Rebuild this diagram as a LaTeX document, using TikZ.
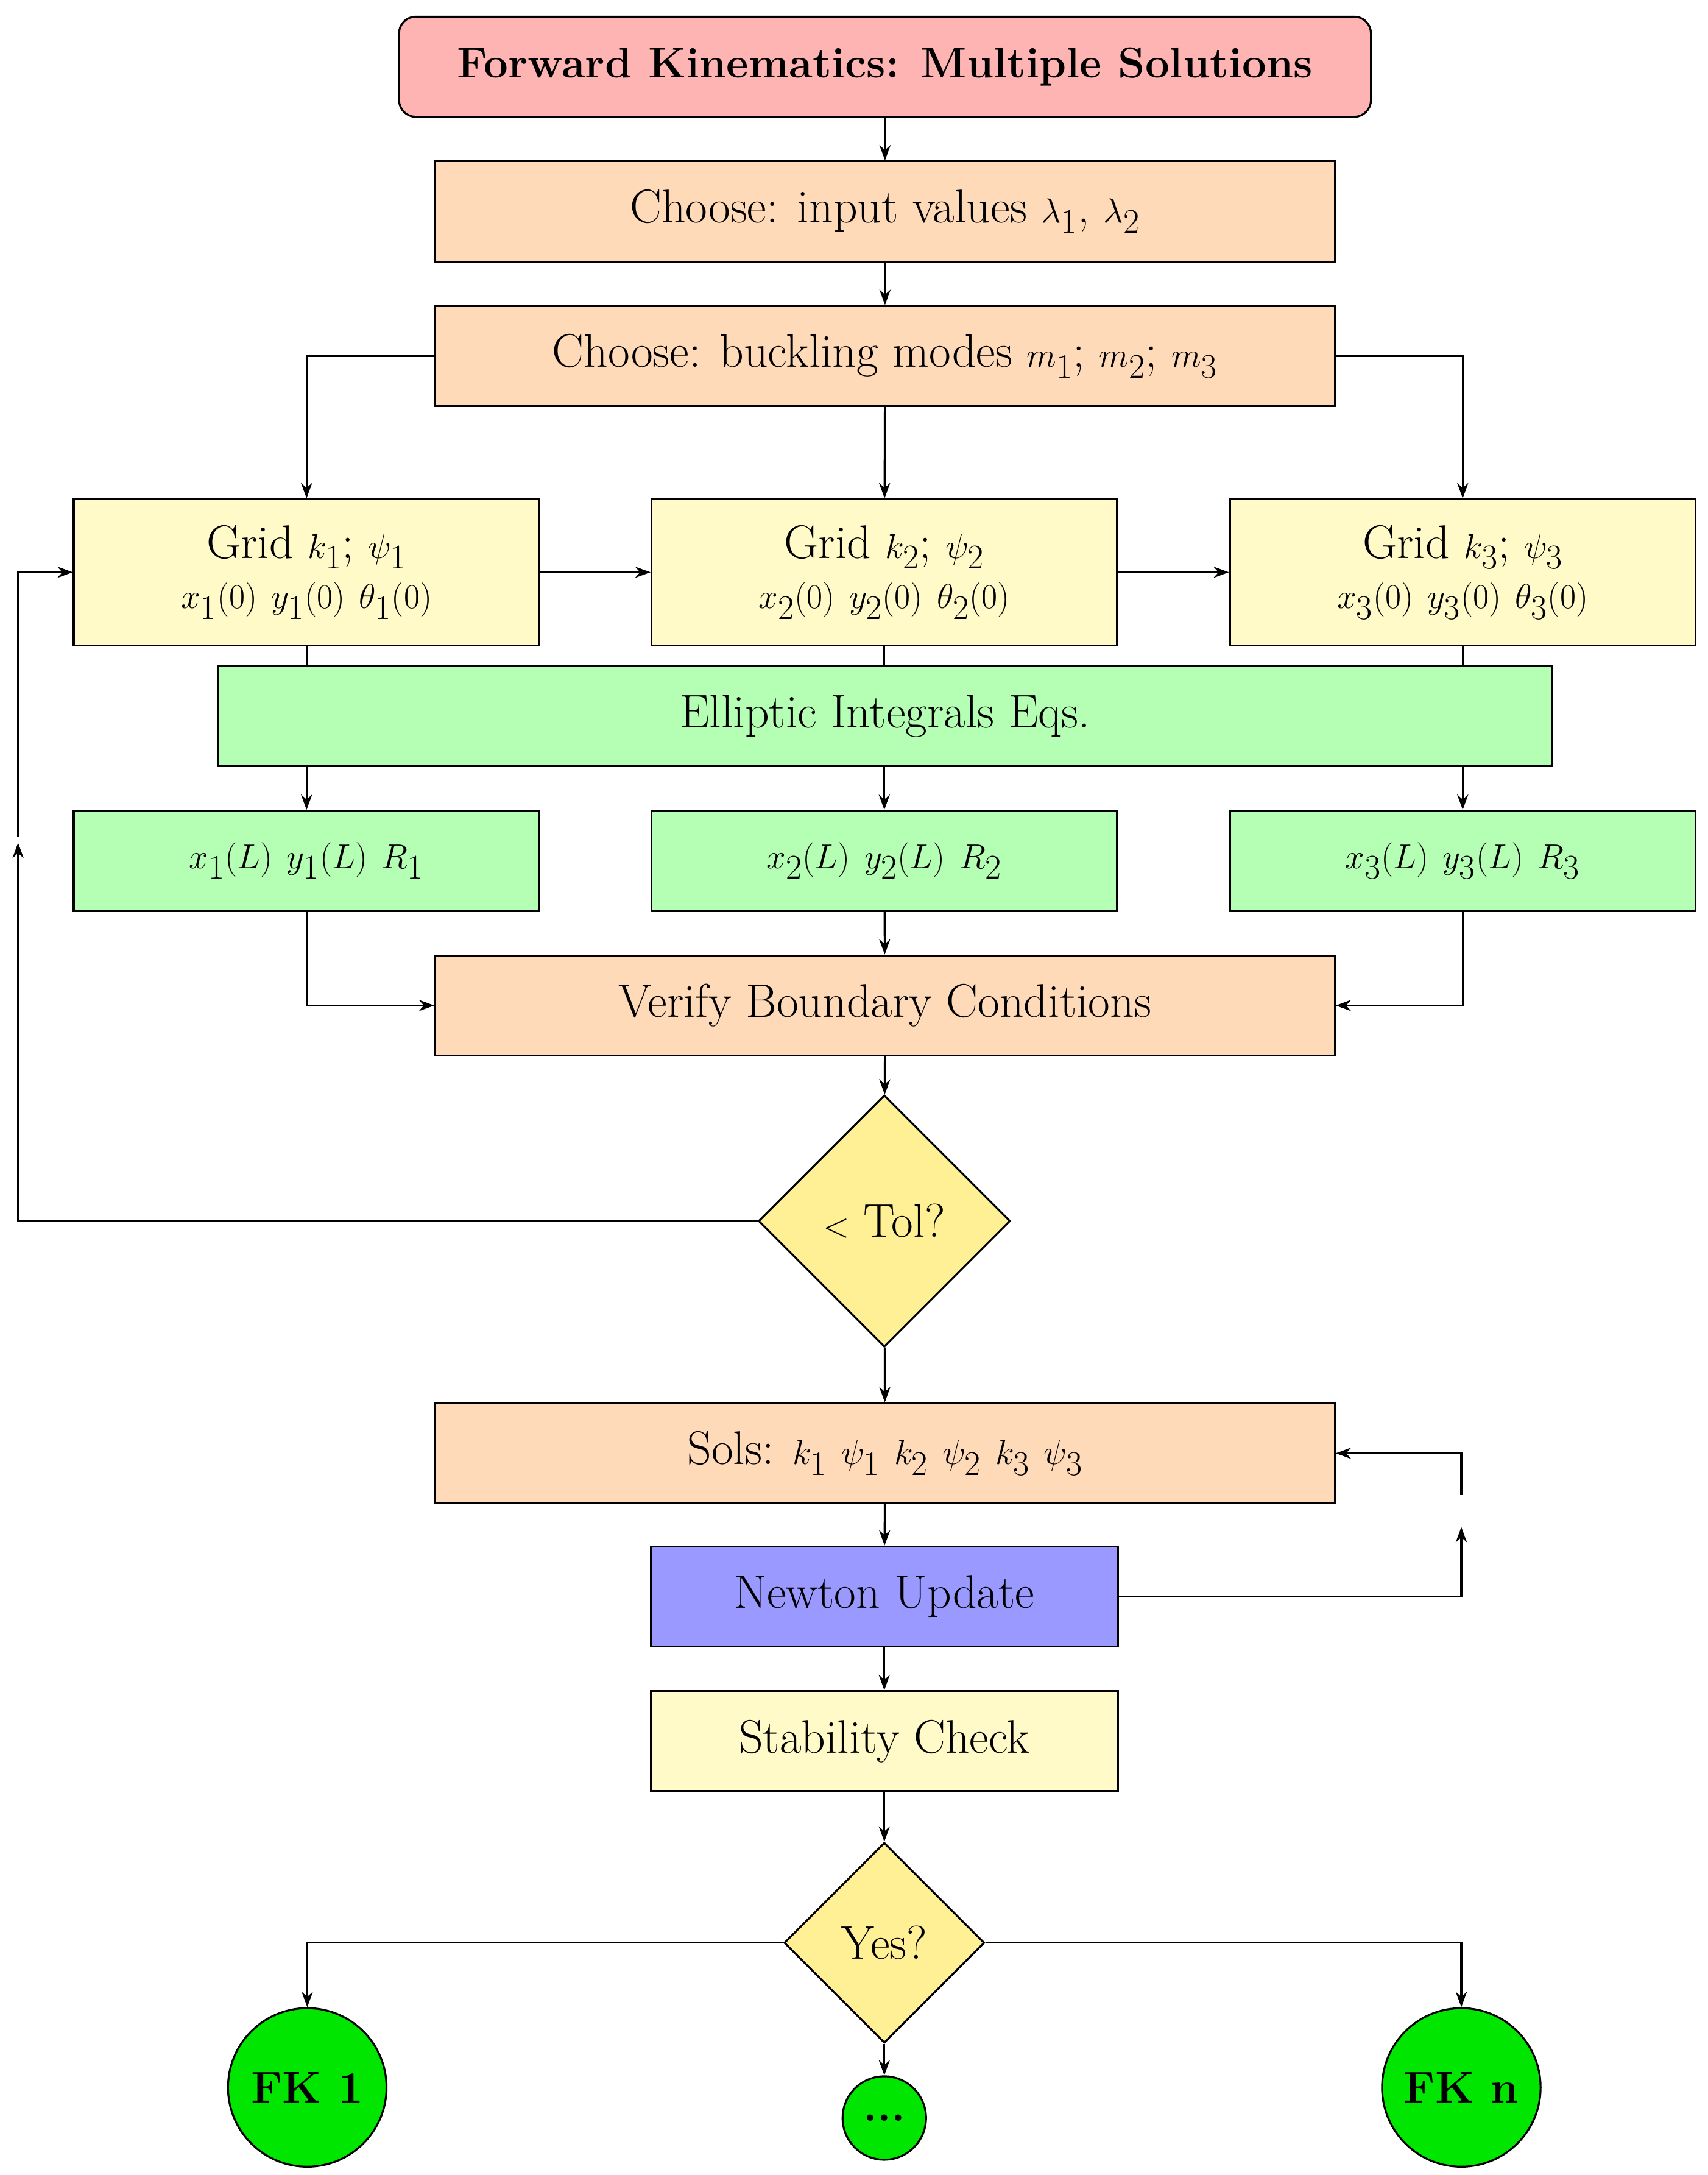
\documentclass[tikz,border=0pt]{standalone}
\usetikzlibrary{shapes.geometric,arrows.meta}
\definecolor{pinkc}{RGB}{255,180,180}
\definecolor{peach}{RGB}{255,218,185}
\definecolor{lyel}{RGB}{255,250,200}
\definecolor{lgreen}{RGB}{180,255,180}
\definecolor{blu}{RGB}{153,153,255}
\definecolor{dyel}{RGB}{255,240,150}
\definecolor{grn}{RGB}{0,230,0}
\begin{document}
\begin{tikzpicture}[x=1pt,y=-1pt,line width=1.4pt,
  every node/.style={font=\fontsize{34}{40}\selectfont},
  box/.style={draw,rectangle,inner sep=0pt,minimum height=72pt},
  dia/.style={draw,diamond,fill=dyel,inner sep=0pt,aspect=1},
  circ/.style={draw,circle,fill=grn,inner sep=0pt,font=\fontsize{32}{38}\selectfont\bfseries},
  arr/.style={-{Stealth[length=11pt,width=8pt]}}]
\useasboundingbox (0,0) rectangle (1228,1564);
\node[box,rounded corners=12pt,fill=pinkc,minimum width=699pt,font=\fontsize{31}{38}\selectfont\bfseries] (title) at (636.5,48) {Forward Kinematics: Multiple Solutions};
\node[box,fill=peach,minimum width=647pt] (c1) at (636.5,152) {Choose: input values $\lambda_1$, $\lambda_2$};
\node[box,fill=peach,minimum width=647pt] (c2) at (636.5,256) {Choose: buckling modes $m_1$; $m_2$; $m_3$};
\foreach \i/\x in {1/220.5,2/636,3/1052}{
  \node[box,fill=lyel,minimum width=335pt,minimum height=105pt,align=center] (g\i) at (\x,411.5) {Grid $k_\i$; $\psi_\i$\\[-4pt] $x_\i(0)\ y_\i(0)\ \theta_\i(0)$};
  \node[box,fill=lgreen,minimum width=335pt] (l\i) at (\x,619) {$x_\i(L)\ y_\i(L)\ R_\i$};
}
\node[box,fill=lgreen,minimum width=959pt] (ell) at (636.5,515) {Elliptic Integrals Eqs.};
\node[box,fill=peach,minimum width=647pt] (ver) at (636.5,723) {Verify Boundary Conditions};
\node[dia,minimum width=181pt,minimum height=181pt] (tol) at (636,878) {$<$ Tol?};
\node[box,fill=peach,minimum width=647pt] (sol) at (636.5,1045) {Sols: $k_1\ \psi_1\ k_2\ \psi_2\ k_3\ \psi_3$};
\node[box,fill=blu,minimum width=336pt] (new) at (636,1148) {Newton Update};
\node[box,fill=lyel,minimum width=336pt] (stab) at (636,1252) {Stability Check};
\node[dia,minimum width=144pt,minimum height=144pt] (yes) at (636,1397) {Yes?};
\node[circ,minimum size=114pt] (fk1) at (221,1501) {FK 1};
\node[circ,minimum size=60pt] (dots) at (636,1523) {...};
\node[circ,minimum size=114pt] (fkn) at (1051,1501) {FK n};
\coordinate (a1) at (13,606); \coordinate (a2) at (13,602);
\coordinate (b1) at (1051,1098); \coordinate (b2) at (1051,1075);
\draw[arr] (title) -- (c1);
\draw[arr] (c1) -- (c2);
\draw[arr] (c2) -- (g2);
\draw[arr] (c2.west) -| (g1.north);
\draw[arr] (c2.east) -| (g3.north);
\draw[arr] (g1) -- (g2);
\draw[arr] (g2) -- (g3);
\foreach \i in {1,2,3}{
  \draw (g\i.south) -- (g\i.south |- ell.north);
  \draw[arr] (g\i.south |- ell.south) -- (l\i.north);
}
\draw[arr] (l1.south) |- (ver.west);
\draw[arr] (l3.south) |- (ver.east);
\draw[arr] (l2) -- (ver);
\draw[arr] (ver) -- (tol);
\draw[arr] (tol.west) -| (a1);
\draw[arr] (a2) |- (g1.west);
\draw[arr] (tol) -- (sol);
\draw[arr] (sol) -- (new);
\draw[arr] (new.east) -| (b1);
\draw[arr] (b2) |- (sol.east);
\draw[arr] (new) -- (stab);
\draw[arr] (stab) -- (yes);
\draw[arr] (yes.west) -| (fk1.north);
\draw[arr] (yes.east) -| (fkn.north);
\draw[arr] (yes) -- (dots);
\end{tikzpicture}
\end{document}
